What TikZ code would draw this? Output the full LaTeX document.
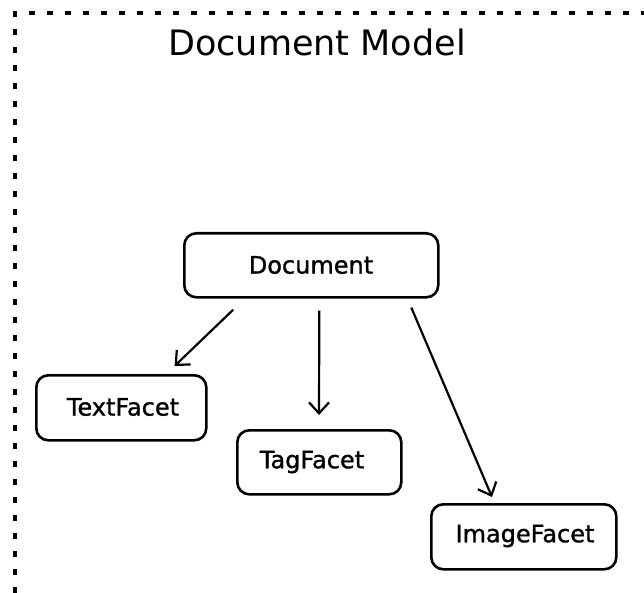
\documentclass[tikz,border=0pt]{standalone}
\usepackage{fontspec}
\setmainfont{DejaVu Sans}
\newfontfamily\labelfont[FakeBold=1.2]{DejaVu Sans}
\usetikzlibrary{arrows.meta,calc}
\begin{document}
\begin{tikzpicture}[x=1pt,y=-1pt,
  facet/.style={draw, line width=2.6pt, rounded corners=12pt, anchor=north west, inner sep=0pt},
  lbl/.style={font=\labelfont\fontsize{24}{28}\selectfont},
  link/.style={line width=2.2pt, -{Straight Barb[length=11pt,width=20pt,line width=2.2pt]}},
  frame/.style={line width=3.2pt, dash pattern=on 6pt off 12pt}]
\useasboundingbox (0,0) rectangle (644,593);

% dashed package frame
\draw[frame] (15,593) -- (15,13) -- (644,13);
\node[font=\fontsize{35}{40}\selectfont] (title) at (317,42) {Document Model};

% boxes
\node[facet, minimum width=254pt, minimum height=64pt] (doc) at (183,232) {};
\node[lbl] (doclbl) at (311,265) {Document};
\node[facet, minimum width=170pt, minimum height=65pt] (text) at (35,374) {};
\node[lbl] (textlbl) at (123,407) {TextFacet};
\node[facet, minimum width=164pt, minimum height=64pt] (tag) at (236,429) {};
\node[lbl] (taglbl) at (312,462) {TagFacet};
\node[facet, minimum width=185pt, minimum height=65pt] (img) at (430,503) {};
\node[lbl] (imglbl) at (525,536) {ImageFacet};

% connector ends
\coordinate (s1) at ($(doc.south)+(-78,11)$);
\coordinate (e1) at ($(text.north east)+(-33,-8)$);
\coordinate (s2) at ($(doc.south)+(8,12)$);
\coordinate (e2) at ($(tag.north west)+(83,-14)$);
\coordinate (s3) at ($(doc.south)+(100,9)$);
\coordinate (e3) at ($(img.north west)+(62,-6)$);

\draw[link] (s1) -- (e1);
\draw[link] (s2) -- (e2);
\draw[link] (s3) -- (e3);
\end{tikzpicture}
\end{document}
